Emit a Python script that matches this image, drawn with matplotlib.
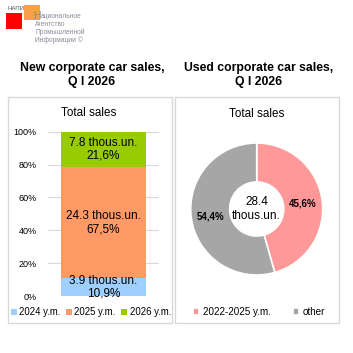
import matplotlib.pyplot as plt
import matplotlib.patches as mpatches
import numpy as np

plt.rcParams['font.family'] = ['Liberation Sans', 'DejaVu Sans']

W = 353.0

# new cars, stacked bar
new_labels = ["2024 y.m.", "2025 y.m.", "2026 y.m."]
new_share = [10.9, 67.5, 21.6]
new_volume = ["3.9", "24.3", "7.8"]
new_colors = ["#9fcfff", "#ff9966", "#99cc00"]

# used cars, donut
used_labels = ["2022-2025 y.m.", "other"]
used_share = [45.6, 54.4]
used_colors = ["#ff9999", "#a6a6a6"]
used_total = "28.4"

y_ticks = [0, 20, 40, 60, 80, 100]


def px(x, y, w, h):
    # pixel box (left, top, width, height) -> figure fraction
    return [x / W, 1 - (y + h) / W, w / W, h / W]


fig = plt.figure(figsize=(3.53, 3.53), dpi=100)

# panel frames
for x0 in (8, 175):
    b = px(x0, 97, 164, 226)
    fig.patches.append(mpatches.Rectangle((b[0], b[1]), b[2], b[3], transform=fig.transFigure,
                                          fill=False, edgecolor="#d9d9d9", lw=1))

# logo
lg = fig.add_axes([0, 0, 1, 1], facecolor="none")
lg.set_xlim(0, W)
lg.set_ylim(W, 0)
lg.axis("off")
lg.add_patch(mpatches.Rectangle((24, 5), 16, 15, color="#f7a04b", lw=0))
lg.add_patch(mpatches.Rectangle((6, 13), 16, 16, color="#ff0000", lw=0))
lg.text(7, 8, "НАПИ", fontsize=4.3, color="#555555", va="center")
logo_c = "#8a8a9a"
lg.text(33, 21, "Н", fontsize=7.5, color=logo_c, va="bottom")
lg.text(40.5, 17, "ациональное", fontsize=4.8, color=logo_c, va="center")
lg.text(35, 24.5, "Агентство", fontsize=4.8, color=logo_c, va="center")
lg.text(35, 32.5, "Промышленной", fontsize=4.8, color=logo_c, va="center")
lg.text(35, 40.5, "Информации ©", fontsize=4.8, color=logo_c, va="center")

# titles
fig.text(92 / W, 1 - 75 / W, "New corporate car sales,\nQ I 2026", ha="center", va="center",
         fontsize=8.8, fontweight="bold", linespacing=1.15)
fig.text(259 / W, 1 - 75 / W, "Used corporate car sales,\nQ I 2026", ha="center", va="center",
         fontsize=8.8, fontweight="bold", linespacing=1.15)
fig.text(89 / W, 1 - 113 / W, "Total sales", ha="center", va="center", fontsize=8.4)
fig.text(257 / W, 1 - 114 / W, "Total sales", ha="center", va="center", fontsize=8.4)

# bar chart
ax = fig.add_axes(px(48, 131.7, 111, 164.3))
bottom = 0
handles = []
for lab, s, v, c in zip(new_labels, new_share, new_volume, new_colors):
    h = ax.bar(0, s, width=0.766, bottom=bottom, color=c, zorder=2)
    handles.append(h)
    ax.text(0, bottom + s / 2, f"{v} thous.un.\n{str(s).replace('.', ',')}%",
            ha="center", va="center", fontsize=8.5, linespacing=1.1, zorder=3)
    bottom += s
ax.set_xlim(-0.5, 0.5)
ax.set_ylim(0, 100)
ax.set_yticks(y_ticks)
ax.set_yticklabels([f"{t}%" for t in y_ticks], fontsize=6.5)
ax.set_xticks([])
ax.tick_params(axis="y", length=0, pad=8)
ax.grid(axis="y", color="#d9d9d9", lw=0.8, zorder=0)
for s in ax.spines.values():
    s.set_visible(False)
ax.legend(handles, new_labels, loc="center", bbox_to_anchor=(91 / W, 1 - 312 / W),
          bbox_transform=fig.transFigure, ncol=3, frameon=False, fontsize=6.9,
          handlelength=0.6, handleheight=0.6, handletextpad=0.25, columnspacing=0.6)

# donut
ax2 = fig.add_axes(px(256.7 - 66, 209 - 66, 132, 132))
wedges, _ = ax2.pie(used_share, colors=used_colors, startangle=90, counterclock=False,
                    radius=1, wedgeprops=dict(width=0.59, edgecolor="white", linewidth=1.2))
ax2.set_xlim(-1, 1)
ax2.set_ylim(-1, 1)
ax2.set_aspect("equal")
ax2.text(0, 0, f"{used_total}\nthous.un.", ha="center", va="center", fontsize=8.5, linespacing=1.2)
ang = 90
for w, s in zip(wedges, used_share):
    mid = np.deg2rad(ang - s / 100 * 360 / 2)
    ax2.text(0.71 * np.cos(mid), 0.71 * np.sin(mid) - 0.02, str(s).replace(".", ",") + "%",
             ha="center", va="center", fontsize=7, fontweight="bold")
    ang -= s / 100 * 360
ax2.legend(wedges, used_labels, loc="center", bbox_to_anchor=(259 / W, 1 - 312 / W),
           bbox_transform=fig.transFigure, ncol=2, frameon=False, fontsize=7.1,
           handlelength=0.6, handleheight=0.6, handletextpad=0.4, columnspacing=2.2)

fig.savefig("out.png", dpi=100)
